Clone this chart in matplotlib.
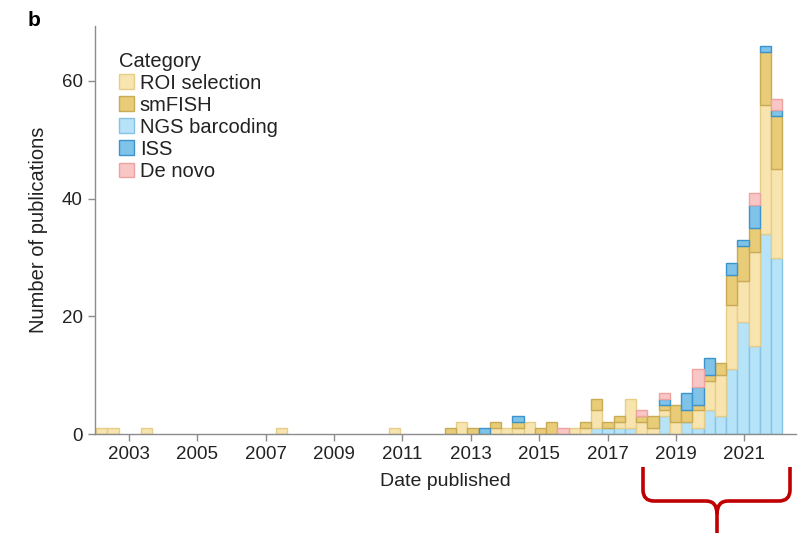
import numpy as np
import matplotlib.pyplot as plt
from matplotlib.path import Path
from matplotlib.patches import PathPatch, Patch

plt.rcParams['font.family'] = ['Liberation Sans', 'DejaVu Sans']

# publications per ~4-month bin, first bin opens early 2002
bin_start = 2002.046
bin_width = 0.3289

roi_selection = [1, 1, 0, 0, 1, 0, 0, 0, 0, 0,
                 0, 0, 0, 0, 0, 0, 1, 0, 0, 0,
                 0, 0, 0, 0, 0, 0, 1, 0, 0, 0,
                 0, 0, 2, 0, 0, 1, 1, 1, 2, 0,
                 0, 0, 1, 1, 3, 0, 1, 5, 2, 1,
                 1, 2, 0, 3, 5, 7, 11, 7, 16, 22,
                 15]
smfish = [0, 0, 0, 0, 0, 0, 0, 0, 0, 0,
          0, 0, 0, 0, 0, 0, 0, 0, 0, 0,
          0, 0, 0, 0, 0, 0, 0, 0, 0, 0,
          0, 1, 0, 1, 0, 1, 0, 1, 0, 1,
          2, 0, 0, 1, 2, 1, 1, 0, 1, 2,
          1, 3, 2, 1, 1, 2, 5, 6, 4, 9,
          9]
ngs_barcoding = [0, 0, 0, 0, 0, 0, 0, 0, 0, 0,
                 0, 0, 0, 0, 0, 0, 0, 0, 0, 0,
                 0, 0, 0, 0, 0, 0, 0, 0, 0, 0,
                 0, 0, 0, 0, 0, 0, 0, 0, 0, 0,
                 0, 0, 0, 0, 1, 1, 1, 1, 0, 0,
                 3, 0, 2, 1, 4, 3, 11, 19, 15, 34,
                 30]
iss = [0, 0, 0, 0, 0, 0, 0, 0, 0, 0,
       0, 0, 0, 0, 0, 0, 0, 0, 0, 0,
       0, 0, 0, 0, 0, 0, 0, 0, 0, 0,
       0, 0, 0, 0, 1, 0, 0, 1, 0, 0,
       0, 0, 0, 0, 0, 0, 0, 0, 0, 0,
       1, 0, 3, 3, 3, 0, 2, 1, 4, 1,
       1]
de_novo = [0, 0, 0, 0, 0, 0, 0, 0, 0, 0,
           0, 0, 0, 0, 0, 0, 0, 0, 0, 0,
           0, 0, 0, 0, 0, 0, 0, 0, 0, 0,
           0, 0, 0, 0, 0, 0, 0, 0, 0, 0,
           0, 1, 0, 0, 0, 0, 0, 0, 1, 0,
           1, 0, 0, 3, 0, 0, 0, 0, 2, 0,
           2]

categories = ['ROI selection', 'smFISH', 'NGS barcoding', 'ISS', 'De novo']
counts = {'ROI selection': roi_selection, 'smFISH': smfish,
          'NGS barcoding': ngs_barcoding, 'ISS': iss, 'De novo': de_novo}
fills = {'ROI selection': '#f8e4ae', 'smFISH': '#e8cc78',
         'NGS barcoding': '#b6e3f7', 'ISS': '#80c3e8', 'De novo': '#f8c6c4'}
edges = {'ROI selection': '#e6cd88', 'smFISH': '#c9aa55',
         'NGS barcoding': '#86c3e4', 'ISS': '#3d94cc', 'De novo': '#eea3a3'}
stack_order = ['NGS barcoding', 'ROI selection', 'smFISH', 'ISS', 'De novo']
year_ticks = list(range(2003, 2022, 2))

fig = plt.figure(figsize=(8.07, 5.33), dpi=100)
ax = fig.add_axes([0.1173, 0.1857, 0.8687, 0.765])

lefts = bin_start + bin_width * np.arange(len(roi_selection))
bottom = np.zeros(len(lefts))
for cat in stack_order:
    h = np.array(counts[cat], dtype=float)
    m = h > 0
    ax.bar(lefts[m], h[m], width=bin_width, bottom=bottom[m], align='edge',
           color=fills[cat], edgecolor=edges[cat], linewidth=1.0)
    bottom += h

ax.set_xlim(2002.0, 2022.5)
ax.set_ylim(0, bottom.max() * 1.05)
ax.set_xticks(year_ticks)
ax.set_yticks([0, 20, 40, 60])
for s in ['top', 'right']:
    ax.spines[s].set_visible(False)
for s in ['left', 'bottom']:
    ax.spines[s].set_color('#8c8c8c')
    ax.spines[s].set_linewidth(1.0)
ax.tick_params(colors='#8c8c8c', labelcolor='#222222', labelsize=13.5,
               length=5, width=1.0)
ax.set_xlabel('Date published', fontsize=14, color='#222222', labelpad=7)
ax.set_ylabel('Number of publications', fontsize=14.5, color='#222222',
              labelpad=10)

handles = [Patch(facecolor=fills[c], edgecolor=edges[c], linewidth=1.0)
           for c in categories]
leg = ax.legend(handles, categories, title='Category', loc='upper left',
                bbox_to_anchor=(0.017, 0.967), frameon=False, fontsize=14.5,
                title_fontsize=14.5, handlelength=0.75, handleheight=0.75,
                handletextpad=0.3, labelspacing=0.15, borderaxespad=0.2)
leg._legend_box.align = 'left'
for t in leg.get_texts():
    t.set_color('#222222')
leg.get_title().set_color('#222222')

fig.text(0.034, 0.962, 'b', fontsize=15, fontweight='bold', va='center')

# red brace under the last few years
W, H = 807.0, 533.0
def f(x, y):
    return (x / W, 1 - y / H)
verts = [f(643, 467), f(643, 490), f(643, 501), f(654, 501), f(706, 501),
         f(717, 501), f(717, 514), f(717, 533),
         f(717, 514), f(717, 501), f(728, 501), f(779, 501), f(790, 501),
         f(790, 490), f(790, 467)]
codes = [Path.MOVETO, Path.LINETO, Path.CURVE3, Path.CURVE3, Path.LINETO,
         Path.CURVE3, Path.CURVE3, Path.LINETO,
         Path.MOVETO, Path.CURVE3, Path.CURVE3, Path.LINETO, Path.CURVE3,
         Path.CURVE3, Path.LINETO]
brace = PathPatch(Path(verts, codes), transform=fig.transFigure, fill=False,
                  edgecolor='#c00000', linewidth=2.6, capstyle='butt',
                  joinstyle='round', clip_on=False)
fig.patches.append(brace)

fig.savefig('out.png', dpi=100)
